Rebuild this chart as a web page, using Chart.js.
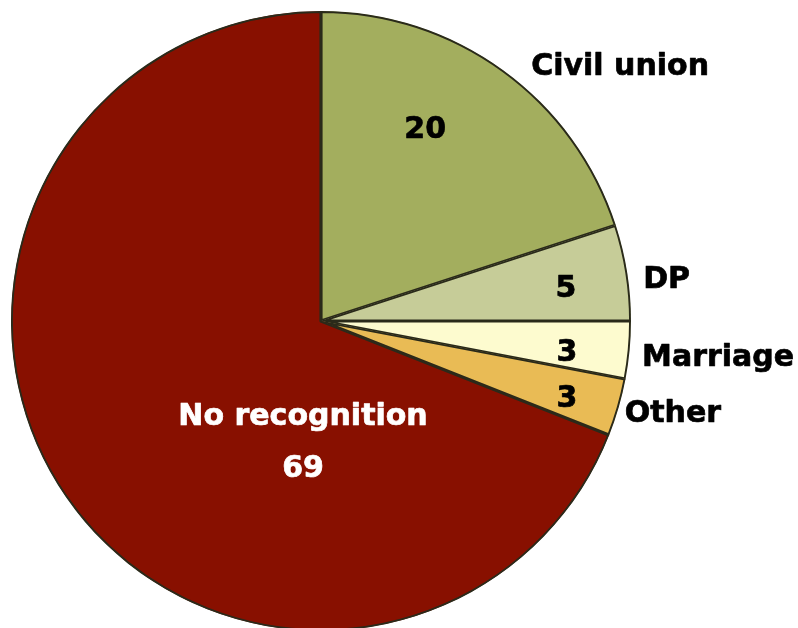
<!DOCTYPE html>
<html>
<head>
<meta charset="utf-8">
<script src="https://cdn.jsdelivr.net/npm/chart.js@4.4.0/dist/chart.umd.min.js"></script>
<style>
html,body{margin:0;padding:0;background:#fff;overflow:hidden;width:798px;height:628px;}
#wrap{position:absolute;left:0;top:0;width:798px;height:642px;}
</style>
</head>
<body>
<div id="wrap"><canvas id="c" width="798" height="642"></canvas></div>
<script>
const categories = ["Civil union", "DP", "Marriage", "Other", "No recognition"];
const values = [20, 5, 3, 3, 69];
const sliceColors = ["#a3ae5e", "#c6cc98", "#fdfbcf", "#e9bb55", "#881000"];

// label placement relative to pie centre, in units of the radius
const valuePlacement = [
  {dx: 0.336, dy: -0.617, color: "#000"},
  {dx: 0.790, dy: -0.104, color: "#000"},
  {dx: 0.793, dy: 0.103, color: "#000"},
  {dx: 0.793, dy: 0.251, color: "#000"},
  {dx: -0.058, dy: 0.477, color: "#fff"}
];
const namePlacement = [
  {dx: 0.965, dy: -0.820, color: "#000"},
  {dx: 1.115, dy: -0.133, color: "#000"},
  {dx: 1.281, dy: 0.119, color: "#000"},
  {dx: 1.135, dy: 0.300, color: "#000"},
  {dx: -0.058, dy: 0.309, color: "#fff", maxW: 256}
];

const labelPlugin = {
  id: 'sliceLabels',
  afterDatasetsDraw(chart) {
    const ctx = chart.ctx;
    const meta = chart.getDatasetMeta(0);
    ctx.save();
    ctx.font = "bold 30px 'DejaVu Sans'";
    ctx.textAlign = "center";
    ctx.textBaseline = "middle";
    ctx.lineWidth = 0.7;
    ctx.lineJoin = "round";
    const draw = (txt, x, y, col, mw) => {
      ctx.fillStyle = col;
      ctx.strokeStyle = col;
      if (mw) { ctx.fillText(txt, x, y, mw); ctx.strokeText(txt, x, y, mw); }
      else { ctx.fillText(txt, x, y); ctx.strokeText(txt, x, y); }
    };
    meta.data.forEach((arc, i) => {
      const p = arc.getProps(['x', 'y', 'outerRadius'], true);
      const r = p.outerRadius;
      const v = valuePlacement[i];
      draw(String(values[i]), p.x + v.dx * r, p.y + v.dy * r, v.color);
      const n = namePlacement[i];
      draw(categories[i], p.x + n.dx * r, p.y + n.dy * r, n.color, n.maxW);
    });
    ctx.restore();
  }
};

new Chart(document.getElementById('c'), {
  type: 'pie',
  data: {
    labels: categories,
    datasets: [{
      data: values,
      backgroundColor: sliceColors,
      borderColor: "#2a2a1a",
      borderWidth: 1.6,
      borderAlign: 'inner'
    }]
  },
  options: {
    responsive: false,
    animation: false,
    layout: {padding: {left: 11, top: 11, right: 167, bottom: 11}},
    plugins: {legend: {display: false}, tooltip: {enabled: false}}
  },
  plugins: [labelPlugin]
});
</script>
</body>
</html>
